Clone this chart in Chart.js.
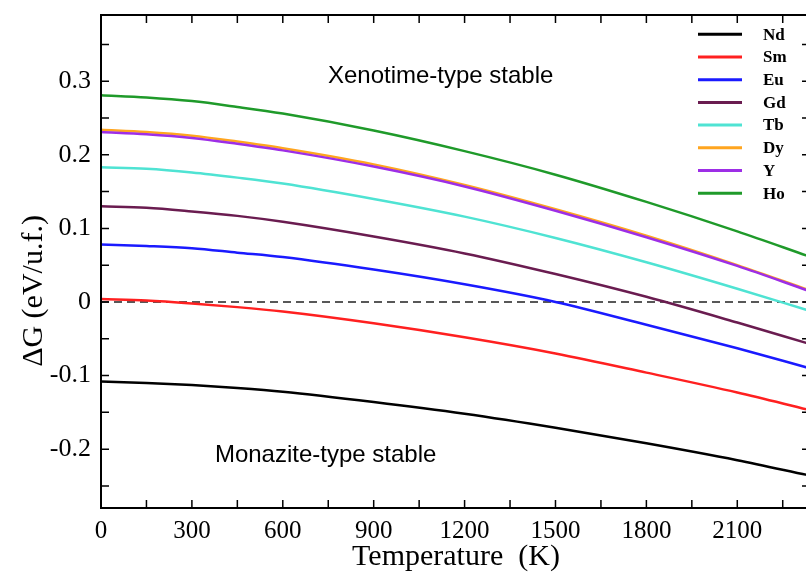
<!DOCTYPE html>
<html>
<head>
<meta charset="utf-8">
<script src="https://cdn.jsdelivr.net/npm/chart.js@4.4.0/dist/chart.umd.min.js"></script>
<style>
html, body { margin: 0; padding: 0; background: #fff; overflow: hidden; }
#wrap { width: 812px; height: 574px; }
</style>
</head>
<body>
<div id="wrap"><canvas id="chart" width="812" height="574"></canvas></div>
<script>
const temps = [0, 150, 300, 450, 600, 900, 1200, 1500, 1800, 2100, 2330];

// Delta G (eV/u.f.) for each rare earth
const nd = [-0.108, -0.110, -0.113, -0.117, -0.122, -0.136, -0.152, -0.171, -0.192, -0.215, -0.235];
const sm = [0.004, 0.002, -0.002, -0.007, -0.013, -0.029, -0.048, -0.070, -0.096, -0.123, -0.146];
const eu = [0.078, 0.076, 0.073, 0.067, 0.061, 0.044, 0.024, 0.000, -0.031, -0.063, -0.089];
const gd = [0.130, 0.128, 0.123, 0.117, 0.109, 0.089, 0.066, 0.038, 0.007, -0.028, -0.056];
const tb = [0.183, 0.181, 0.176, 0.169, 0.161, 0.140, 0.116, 0.087, 0.054, 0.018, -0.011];
const dy = [0.234, 0.231, 0.226, 0.218, 0.209, 0.187, 0.159, 0.126, 0.090, 0.050, 0.017];
const yy = [0.231, 0.228, 0.223, 0.215, 0.206, 0.184, 0.157, 0.124, 0.088, 0.049, 0.016];
const ho = [0.281, 0.278, 0.273, 0.265, 0.256, 0.233, 0.205, 0.173, 0.136, 0.096, 0.063];

const names = ['Nd', 'Sm', 'Eu', 'Gd', 'Tb', 'Dy', 'Y', 'Ho'];
const colors = ['#000000', '#ff2020', '#1a1aff', '#6a1c50', '#4fe3d3', '#ffa51f', '#9d2ee6', '#1f9a2a'];
const series = [nd, sm, eu, gd, tb, dy, yy, ho];

// Axis ranges and ticks
const xMin = 0, xMax = 2340, xStep = 150;
const yMin = -0.28, yMax = 0.39, yStep = 0.05;

// Region labels, placed in data coordinates
const notes = [
    { text: 'Xenotime-type stable', x: 749, y: 0.297 },
    { text: 'Monazite-type stable', x: 376, y: -0.217 }
];

const toPoints = (vals) => temps.map((t, i) => ({ x: t, y: vals[i] }));

const datasets = series.map((vals, i) => ({
    label: names[i],
    data: toPoints(vals),
    borderColor: colors[i],
    borderWidth: 2.5,
    pointRadius: 0,
    fill: false,
    cubicInterpolationMode: 'monotone',
    // Dy sits just under Y in the original
    order: names[i] == 'Dy' ? 1 : 0
}));

datasets.push({
    label: 'zero',
    data: [{ x: xMin, y: 0 }, { x: xMax, y: 0 }],
    borderColor: '#222',
    borderWidth: 1.5,
    borderDash: [8, 5],
    pointRadius: 0,
    order: 2
});

// Frame, inward ticks, legend and text drawn on top
const framePlugin = {
    id: 'frame',
    afterDatasetsDraw(chart) {
        const ctx = chart.ctx;
        const a = chart.chartArea;
        const xs = chart.scales.x, ys = chart.scales.y;
        ctx.save();
        ctx.strokeStyle = '#000';
        ctx.lineWidth = 2;
        ctx.strokeRect(a.left, a.top, a.right - a.left, a.bottom - a.top);

        ctx.lineWidth = 1.5;
        const tl = 8;
        ctx.beginPath();
        xs.ticks.forEach(t => {
            const px = xs.getPixelForValue(t.value);
            ctx.moveTo(px, a.bottom); ctx.lineTo(px, a.bottom - tl);
            ctx.moveTo(px, a.top); ctx.lineTo(px, a.top + tl);
        });
        ys.ticks.forEach(t => {
            const py = ys.getPixelForValue(t.value);
            ctx.moveTo(a.left, py); ctx.lineTo(a.left + tl, py);
            ctx.moveTo(a.right, py); ctx.lineTo(a.right - tl, py);
        });
        ctx.stroke();

        // Legend
        ctx.font = 'bold 17px "Liberation Serif"';
        ctx.textBaseline = 'middle';
        ctx.textAlign = 'left';
        names.forEach((n, i) => {
            const y = 34.3 + i * 22.7;
            ctx.strokeStyle = colors[i];
            ctx.lineWidth = 3;
            ctx.beginPath();
            ctx.moveTo(698, y); ctx.lineTo(742, y);
            ctx.stroke();
            ctx.fillStyle = '#000';
            ctx.fillText(n, 763, y + 1);
        });

        // Region notes
        ctx.font = '24px "Liberation Sans"';
        ctx.textBaseline = 'alphabetic';
        notes.forEach(nt => {
            ctx.fillText(nt.text, xs.getPixelForValue(nt.x), ys.getPixelForValue(nt.y));
        });

        // Axis titles
        ctx.font = '30px "Liberation Serif"';
        ctx.textAlign = 'center';
        ctx.fillText('Temperature  (K)', 456, 565);
        ctx.save();
        ctx.translate(42, 291);
        ctx.rotate(-Math.PI / 2);
        ctx.fillText('\u0394G (eV/u.f.)', 0, 0);
        ctx.restore();
        ctx.restore();
    }
};

new Chart(document.getElementById('chart'), {
    type: 'line',
    data: { datasets: datasets },
    options: {
        responsive: false,
        animation: false,
        devicePixelRatio: 1,
        layout: { padding: { top: 15, right: 2, left: 0, bottom: 0 } },
        plugins: { legend: { display: false }, tooltip: { enabled: false } },
        scales: {
            x: {
                type: 'linear',
                min: xMin,
                max: xMax,
                grid: { display: false, drawTicks: false },
                border: { display: false },
                afterFit: s => {
                    s.height = 66;
                    s.paddingLeft = 0;
                    s.paddingRight = 0;
                },
                ticks: {
                    stepSize: xStep,
                    includeBounds: false,
                    autoSkip: false,
                    maxRotation: 0,
                    padding: 8,
                    color: '#000',
                    font: { family: 'Liberation Serif', size: 25 },
                    callback: v => (Math.round(v) % 300 === 0 ? String(Math.round(v)) : '')
                }
            },
            y: {
                min: yMin,
                max: yMax,
                grid: { display: false, drawTicks: false },
                border: { display: false },
                afterFit: s => {
                    s.width = 101;
                    s.paddingTop = 0;
                    s.paddingBottom = 0;
                },
                ticks: {
                    stepSize: yStep,
                    includeBounds: false,
                    autoSkip: false,
                    padding: 10,
                    color: '#000',
                    font: { family: 'Liberation Serif', size: 26 },
                    callback: v => {
                        const k = Math.round(v * 100);
                        if (k % 10 !== 0) return '';
                        return k === 0 ? '0' : (k / 100).toFixed(1);
                    }
                }
            }
        }
    },
    plugins: [framePlugin]
});
</script>
</body>
</html>
